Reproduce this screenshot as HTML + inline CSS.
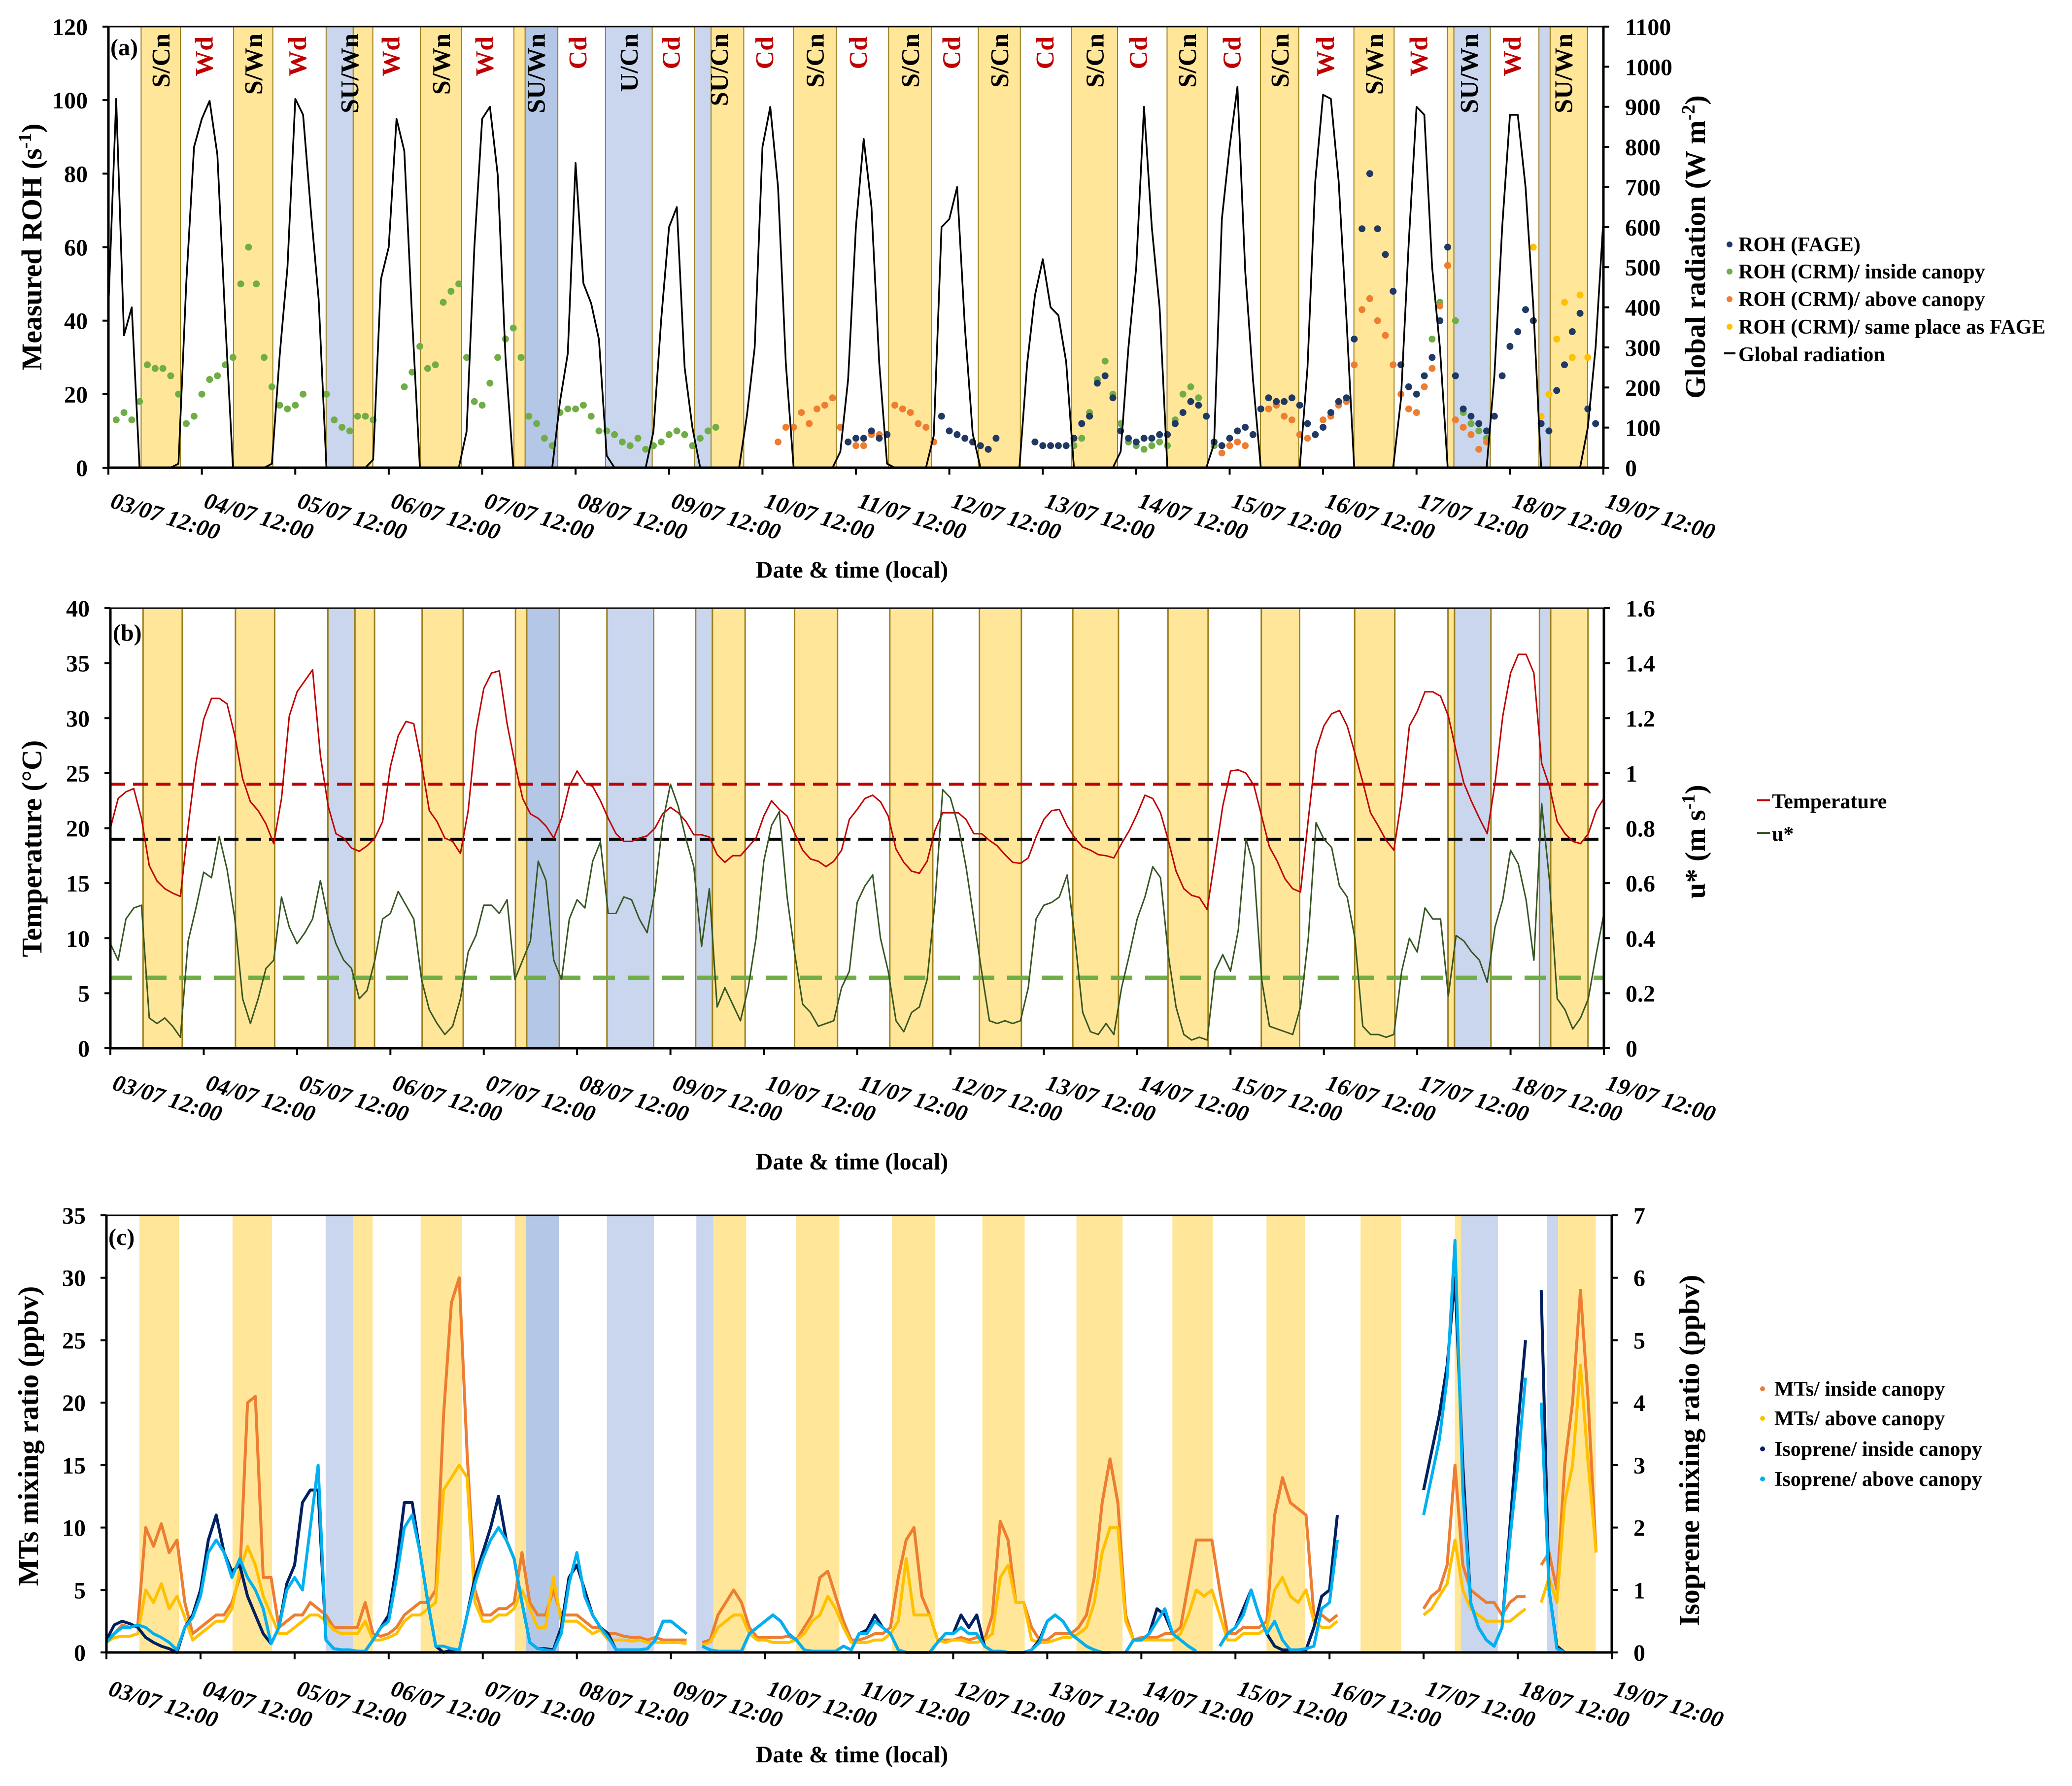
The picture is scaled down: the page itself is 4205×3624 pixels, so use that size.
<!DOCTYPE html>
<html><head><meta charset="utf-8"><title>ROH, temperature, u* and BVOC time series</title>
<style>
html,body{margin:0;padding:0;background:#fff;}
svg{display:block;font-family:"Liberation Serif","Times New Roman",serif;font-weight:bold;}
</style></head>
<body>
<svg id="fig" xmlns="http://www.w3.org/2000/svg" width="4205" height="3624" viewBox="0 0 4205 3624">
<rect x="0" y="0" width="4205" height="3624" fill="#fff"/>
<g id="bandsA"></g>
<g id="bandsB"></g>
<g id="bandsC"></g>
<g id="marks"></g>
<g id="axes"></g>

<text x="224" y="112" font-size="48">(a)</text>
<text x="229" y="1300" font-size="48">(b)</text>
<text x="220" y="2526" font-size="48">(c)</text>

<text transform="translate(84,501) rotate(-90)" text-anchor="middle" font-size="58">Measured ROH (s<tspan baseline-shift="super" font-size="38">-1</tspan>)</text>
<text transform="translate(3460,501) rotate(-90)" text-anchor="middle" font-size="58">Global radiation (W m<tspan baseline-shift="super" font-size="38">-2</tspan>)</text>
<text transform="translate(84,1722) rotate(-90)" text-anchor="middle" font-size="58">Temperature (°C)</text>
<text transform="translate(3460,1708) rotate(-90)" text-anchor="middle" font-size="58">u* (m s<tspan baseline-shift="super" font-size="38">-1</tspan>)</text>
<text transform="translate(77,2914) rotate(-90)" text-anchor="middle" font-size="58">MTs mixing ratio (ppbv)</text>
<text transform="translate(3448,2943) rotate(-90)" text-anchor="middle" font-size="58">Isoprene mixing ratio (ppbv)</text>

<text x="1729" y="1172" text-anchor="middle" font-size="48">Date &amp; time (local)</text>
<text x="1729" y="2373" text-anchor="middle" font-size="48">Date &amp; time (local)</text>
<text x="1729" y="3576" text-anchor="middle" font-size="48">Date &amp; time (local)</text>

<g font-size="42">
  <g><circle cx="3510" cy="496" r="6" fill="#203864"/><text x="3528" y="510">ROH (FAGE)</text></g>
  <g><circle cx="3510" cy="551" r="6" fill="#70AD47"/><text x="3528" y="565">ROH (CRM)/ inside canopy</text></g>
  <g><circle cx="3510" cy="607" r="6" fill="#ED7D31"/><text x="3528" y="621">ROH (CRM)/ above canopy</text></g>
  <g><circle cx="3510" cy="663" r="6" fill="#FFC000"/><text x="3528" y="677">ROH (CRM)/ same place as FAGE</text></g>
  <g><line x1="3499" y1="717" x2="3522" y2="717" stroke="#000" stroke-width="4"/><text x="3528" y="733">Global radiation</text></g>
</g>
<g font-size="42">
  <g><line x1="3566" y1="1624" x2="3592" y2="1624" stroke="#C00000" stroke-width="4"/><text x="3596" y="1640">Temperature</text></g>
  <g><line x1="3566" y1="1690" x2="3592" y2="1690" stroke="#375623" stroke-width="4"/><text x="3596" y="1706">u*</text></g>
</g>
<g font-size="42">
  <g><circle cx="3577" cy="2818" r="5" fill="#ED7D31"/><text x="3601" y="2832">MTs/ inside canopy</text></g>
  <g><circle cx="3577" cy="2878" r="5" fill="#FFC000"/><text x="3601" y="2892">MTs/ above canopy</text></g>
  <g><circle cx="3577" cy="2940" r="5" fill="#002060"/><text x="3601" y="2954">Isoprene/ inside canopy</text></g>
  <g><circle cx="3577" cy="3001" r="5" fill="#00B0F0"/><text x="3601" y="3015">Isoprene/ above canopy</text></g>
</g>
</svg>

<script>
const _ = null;
const dayLabels = ['03/07 12:00','04/07 12:00','05/07 12:00','06/07 12:00','07/07 12:00','08/07 12:00','09/07 12:00','10/07 12:00','11/07 12:00','12/07 12:00','13/07 12:00','14/07 12:00','15/07 12:00','16/07 12:00','17/07 12:00','18/07 12:00','19/07 12:00'];
const bandStart = [0.35,1.34,2.33,2.62,3.34,4.34,4.46,5.32,6.27,6.45,7.33,8.35,9.31,10.31,11.33,12.33,13.33,14.33,14.40,15.31,15.43];
const bandEnd   = [0.77,1.76,2.62,2.83,3.78,4.46,4.81,5.82,6.45,6.80,7.79,8.81,9.76,10.80,11.76,12.74,13.76,14.40,14.79,15.43,15.83];
const bandType  = ['Y','Y','B','Y','Y','Y','D','B','B','Y','Y','Y','Y','Y','Y','Y','Y','Y','B','B','Y'];
const nightLabels = ['S/Cn','S/Wn','SU/Wn','S/Wn','SU/Wn','U/Cn','SU/Cn','S/Cn','S/Cn','S/Cn','S/Cn','S/Cn','S/Cn','S/Wn','SU/Wn','SU/Wn'];
const dayTypeLabels = ['Wd','Wd','Wd','Wd','Cd','Cd','Cd','Cd','Cd','Cd','Cd','Cd','Wd','Wd','Wd'];

const aLeftTicks = [0,20,40,60,80,100,120];
const aRightTicks = [0,100,200,300,400,500,600,700,800,900,1000,1100];
const radiation = [
400,920,330,400,0,0,0,0,0,10,460,800,
870,915,780,370,0,0,0,0,0,10,280,500,
920,880,640,420,0,0,0,0,0,0,20,470,
550,870,790,375,0,0,0,0,0,0,90,550,
870,900,730,275,0,0,0,0,0,0,165,285,
760,460,410,320,30,0,0,0,0,0,90,370,
600,650,250,100,0,0,0,0,0,0,130,300,
800,900,700,260,0,0,0,0,0,0,40,220,
600,820,650,260,10,0,0,0,0,0,80,600,
620,700,350,85,0,0,0,0,0,0,260,430,
520,400,380,264,0,0,0,0,0,0,40,300,
500,900,600,400,0,0,0,0,0,0,60,620,
800,950,490,219,0,0,0,0,0,0,250,715,
930,920,715,372,0,0,0,0,0,0,170,560,
900,880,500,300,0,0,0,0,0,0,230,600,
880,880,700,400,0,0,0,0,0,0,100,300,
620];
const rohInside = [
_,13,15,13,18,28,27,27,25,20,12,14,
20,24,25,28,30,50,60,50,30,22,17,16,
17,20,_,_,20,13,11,10,14,14,13,_,
_,_,22,26,33,27,28,45,48,50,30,18,
17,23,30,35,38,30,14,12,8,6,15,16,
16,17,14,10,10,9,7,6,8,5,6,7,
9,10,9,6,8,10,11,_,_,_,_,_,
_,_,_,_,_,_,_,_,_,_,_,_,
_,_,_,_,_,_,_,_,_,_,_,_,
_,_,_,_,_,_,_,_,_,_,_,_,
_,_,_,_,6,8,15,24,29,20,12,7,
6,5,6,7,6,13,20,22,19,14,6,_,
_,_,_,_,_,_,_,_,_,_,_,_,
_,_,_,_,_,_,_,_,_,_,_,_,
_,25,35,45,55,40,15,12,10,8,_,_,
_,_,_,_,_,_,_,_,_,_,_,_,
_];
const rohAbove = [
_,_,_,_,_,_,_,_,_,_,_,_,
_,_,_,_,_,_,_,_,_,_,_,_,
_,_,_,_,_,_,_,_,_,_,_,_,
_,_,_,_,_,_,_,_,_,_,_,_,
_,_,_,_,_,_,_,_,_,_,_,_,
_,_,_,_,_,_,_,_,_,_,_,_,
_,_,_,_,_,_,_,_,_,_,_,_,
_,_,7,11,11,15,12,16,17,19,11,7,
6,6,9,9,9,17,16,15,12,11,7,_,
_,_,_,_,_,_,_,_,_,_,_,_,
_,_,_,_,_,_,_,_,_,_,_,_,
_,_,_,_,_,_,_,_,_,_,_,4,
6,7,6,9,16,16,17,14,13,9,8,9,
13,14,17,18,28,43,46,40,36,28,20,16,
15,22,27,44,55,13,11,9,5,7,_,_,
_,_,_,_,_,_,_,_,_,_,_,_,
_];
const rohFage = [
_,_,_,_,_,_,_,_,_,_,_,_,
_,_,_,_,_,_,_,_,_,_,_,_,
_,_,_,_,_,_,_,_,_,_,_,_,
_,_,_,_,_,_,_,_,_,_,_,_,
_,_,_,_,_,_,_,_,_,_,_,_,
_,_,_,_,_,_,_,_,_,_,_,_,
_,_,_,_,_,_,_,_,_,_,_,_,
_,_,_,_,_,_,_,_,_,_,_,7,
8,8,10,8,9,_,_,_,_,_,_,14,
10,9,8,7,6,5,8,_,_,_,_,7,
6,6,6,6,8,12,14,23,25,19,10,8,
7,8,8,9,9,12,15,18,17,14,7,6,
8,10,11,9,16,19,18,18,19,17,12,9,
11,15,18,19,35,65,80,65,58,48,28,22,
20,25,30,40,60,25,16,14,12,10,14,25,
33,37,43,40,12,10,21,28,37,42,16,12,
_];
const rohSame = [
_,_,_,_,_,_,_,_,_,_,_,_, _,_,_,_,_,_,_,_,_,_,_,_, _,_,_,_,_,_,_,_,_,_,_,_,
_,_,_,_,_,_,_,_,_,_,_,_, _,_,_,_,_,_,_,_,_,_,_,_, _,_,_,_,_,_,_,_,_,_,_,_,
_,_,_,_,_,_,_,_,_,_,_,_, _,_,_,_,_,_,_,_,_,_,_,_, _,_,_,_,_,_,_,_,_,_,_,_,
_,_,_,_,_,_,_,_,_,_,_,_, _,_,_,_,_,_,_,_,_,_,_,_, _,_,_,_,_,_,_,_,_,_,_,_,
_,_,_,_,_,_,_,_,_,_,_,_, _,_,_,_,_,_,_,_,_,_,_,_, _,_,_,_,_,_,_,_,_,_,_,_,
_,_,_,60,14,20,35,45,30,47,30,_,
_];

const bLeftTicks = [0,5,10,15,20,25,30,35,40];
const bRightTicks = ['0','0.2','0.4','0.6','0.8','1','1.2','1.4','1.6'];
const refTemps = [24,19];
const refUstar = [0.256];
const temperature = [
20.0,22.7,23.3,23.6,20.9,16.6,15.2,14.5,14.1,13.8,20.2,25.9,
29.9,31.8,31.8,31.3,28.4,24.5,22.4,21.6,20.4,18.6,22.7,30.2,
32.4,33.4,34.4,26.6,22.0,19.5,19.1,18.2,17.9,18.4,19.1,20.6,
25.6,28.4,29.7,29.5,25.9,21.6,20.6,19.1,18.8,17.7,21.6,28.8,
32.7,34.1,34.3,29.5,25.9,22.7,21.3,20.9,20.2,19.1,20.9,23.8,
25.2,24.1,23.8,22.5,20.9,19.5,18.8,18.8,19.1,19.3,20.0,21.3,
21.9,21.4,20.6,19.4,19.4,19.2,17.6,16.9,17.5,17.5,18.3,19.1,
21.1,22.5,21.7,21.1,19.5,18.0,17.2,17.0,16.5,17.0,18.0,20.8,
21.7,22.7,23.0,22.4,21.1,18.1,16.9,16.1,15.9,17.0,19.8,21.4,
21.4,21.4,20.8,19.5,19.5,18.9,18.4,17.6,16.9,16.8,17.3,19.2,
20.8,21.6,21.7,20.2,19.1,18.3,18.0,17.6,17.5,17.3,18.6,19.8,
21.3,23.0,22.7,21.4,18.9,16.1,14.5,13.9,13.7,12.6,17.3,22.0,
25.2,25.3,25.0,23.9,21.1,18.3,17.0,15.4,14.5,14.2,20.8,27.1,
29.3,30.4,30.7,29.3,26.8,24.2,21.4,20.2,18.9,18.0,22.7,29.3,
30.6,32.4,32.4,32.0,30.2,27.0,24.1,22.4,20.9,19.5,24.1,30.2,
34.1,35.8,35.8,34.1,25.9,23.8,20.6,19.5,18.8,18.6,19.5,21.6,
22.7];
const ustar = [
.38,.32,.47,.51,.52,.11,.09,.11,.08,.04,.39,.51,
.64,.62,.77,.65,.47,.18,.09,.18,.29,.32,.55,.44,
.38,.42,.47,.61,.47,.38,.32,.29,.18,.21,.32,.47,
.49,.57,.52,.47,.25,.14,.09,.05,.08,.18,.35,.41,
.52,.52,.49,.54,.25,.32,.39,.68,.61,.32,.25,.47,
.54,.51,.68,.75,.49,.49,.55,.54,.47,.42,.57,.82,
.96,.88,.76,.66,.37,.58,.15,.22,.16,.10,.22,.40,
.68,.81,.86,.55,.34,.16,.13,.08,.09,.10,.22,.28,
.53,.59,.63,.40,.28,.10,.06,.13,.15,.25,.53,.94,
.91,.81,.66,.47,.28,.10,.09,.10,.09,.10,.22,.47,
.52,.53,.55,.63,.40,.13,.06,.05,.09,.05,.22,.34,
.47,.55,.66,.62,.34,.15,.05,.03,.04,.03,.28,.34,
.28,.43,.76,.66,.25,.08,.07,.06,.05,.15,.40,.82,
.76,.73,.59,.55,.40,.08,.05,.05,.04,.05,.28,.40,
.35,.51,.47,.47,.19,.41,.39,.35,.32,.24,.44,.54,
.72,.67,.54,.32,.89,.61,.18,.14,.07,.11,.18,.34,
.49];

const cLeftTicks = [0,5,10,15,20,25,30,35];
const cRightTicks = [0,1,2,3,4,5,6,7];
const mtsInside = [
1.0,1.5,2.2,2.0,2.2,10.0,8.5,10.3,8.0,9.0,4.0,1.5,
2.0,2.5,3.0,3.0,4.0,6.0,20.0,20.5,6.0,6.0,2.0,2.5,
3.0,3.0,4.0,3.5,3.0,2.0,2.0,2.0,2.0,4.0,1.5,1.3,
1.5,2.0,3.0,3.5,4.0,4.0,5.0,19.0,28.0,30.0,16.0,5.0,
3.0,3.0,3.5,3.5,4.0,8.0,4.0,3.0,3.0,5.0,3.0,3.0,
3.0,2.5,2.0,2.0,1.5,1.5,1.3,1.2,1.2,1.0,1.2,1.0,
1.0,1.0,1.0,_,0.8,1.0,3.0,4.0,5.0,4.0,2.0,1.2,
1.2,1.2,1.2,1.3,1.0,2.0,3.0,6.0,6.5,4.5,2.5,1.0,
1.0,1.2,1.5,1.5,2.0,6.0,9.0,10.0,4.5,3.0,1.0,1.0,
1.0,1.2,1.0,1.2,1.0,3.0,10.5,9.0,4.0,4.0,2.0,1.0,
1.0,1.5,1.5,1.5,2.0,3.0,6.0,12.0,15.5,12.0,3.0,1.0,
1.2,1.2,1.2,1.5,1.5,2.0,5.5,9.0,9.0,9.0,5.0,1.5,
1.5,2.0,2.0,2.0,2.5,11.0,14.0,12.0,11.5,11.0,3.0,3.0,
2.5,3.0,_,_,_,_,_,_,_,_,_,_,
3.5,4.5,5.0,7.0,15.0,7.0,5.0,4.5,4.0,4.0,3.0,4.0,
4.5,4.5,_,7.0,8.0,5.0,15.0,20.0,29.0,20.0,8.0,_,
_];
const mtsAbove = [
0.8,1.2,1.3,1.3,1.5,5.0,4.0,5.5,3.5,4.5,2.8,1.0,
1.5,2.0,2.5,2.5,3.5,6.5,8.5,7.0,4.5,3.0,1.5,1.5,
2.0,2.5,3.0,3.0,2.5,1.8,1.5,1.5,1.5,2.5,1.0,1.0,
1.2,1.5,2.5,3.0,3.0,3.5,4.0,13.0,14.0,15.0,14.0,4.0,
2.5,2.5,3.0,3.0,3.5,5.0,3.5,2.0,2.0,6.0,2.5,2.5,
2.5,2.0,1.5,1.8,1.0,1.0,1.0,0.9,1.0,0.8,0.8,0.8,
0.8,0.8,0.7,_,0.6,0.8,2.0,2.5,3.0,3.0,1.5,1.0,
1.0,0.8,0.8,0.8,1.0,1.5,2.5,3.0,4.5,3.5,2.0,0.8,
0.8,0.8,1.0,1.0,1.5,2.5,7.5,3.0,3.0,3.0,1.0,0.8,
1.0,1.0,0.8,0.8,1.0,1.5,6.0,7.0,4.0,4.0,1.0,0.8,
0.8,1.0,1.2,1.2,1.5,2.0,4.0,8.0,10.0,10.0,2.5,1.0,
1.0,1.0,1.0,1.0,1.0,1.5,3.0,5.0,4.5,5.0,3.0,1.0,
1.0,1.5,1.5,1.5,2.0,5.0,6.0,4.5,4.0,5.0,2.5,2.0,
2.0,2.5,_,_,_,_,_,_,_,_,_,_,
3.0,3.5,4.5,5.5,9.0,5.0,3.5,3.0,2.5,2.5,2.5,2.5,
3.0,3.5,_,4.0,6.0,4.0,12.0,15.0,23.0,15.0,8.0,_,
_];
const isoInside = [
.2,.44,.5,.46,.4,.24,.16,.1,.06,0,.4,.6,
1,1.8,2.2,1.6,1.3,1.4,.9,.6,.3,.14,.4,1.1,
1.4,2.4,2.6,2.6,.2,.06,.04,.04,.02,.02,.2,.4,
.6,1.4,2.4,2.4,1.6,.8,.1,0,.04,.04,.6,1.2,
1.6,2,2.5,1.8,1.5,.8,.16,.06,.06,.04,.4,1.2,
1.4,1,.6,.4,.3,.04,.04,.04,.04,.06,.2,.5,
.5,.4,.3,_,.1,.04,.02,.02,.02,.02,.3,.4,
.5,.6,.5,.3,.2,.04,.02,.02,.02,.02,.1,.04,
.3,.36,.6,.4,.3,.04,0,0,0,0,.16,.3,
.3,.6,.4,.6,.1,.02,.02,0,0,0,.04,.2,
.5,.6,.5,.3,.2,.1,.04,0,0,_,0,.2,
.2,.3,.7,.6,.3,.2,.1,.02,_,_,.1,.3,
.4,.7,1,.6,.3,.1,.04,.04,.04,.04,.4,.9,
1,2.2,_,_,_,_,_,_,_,_,_,_,
2.6,3.2,3.8,4.6,6.0,3.0,.8,.4,.2,.1,.4,2.0,
3.6,5.0,_,5.8,1.0,.1,0,_,_,_,_,_,
_];
const isoAbove = [
.16,.3,.4,.4,.44,.4,.3,.24,.16,.04,.4,.56,
.9,1.6,1.8,1.6,1.2,1.5,1.2,1,.7,.14,.4,1,
1.2,1,2,3,.2,.06,.04,.04,.02,.02,.2,.4,
.5,1.2,2,2.2,1.6,.8,.1,.1,.06,.04,.6,1.1,
1.5,1.8,2,1.8,1.5,.8,.16,.06,.04,.02,.3,1.1,
1.6,.9,.6,.4,.24,.04,.04,.04,.04,.06,.2,.5,
.5,.4,.3,_,.1,.04,.02,.02,.02,.02,.3,.4,
.5,.6,.5,.3,.2,.04,.02,.02,.02,.02,.1,.04,
.3,.3,.5,.4,.3,.04,0,0,0,0,.16,.3,
.3,.4,.3,.3,.1,.02,.02,0,0,0,.04,.16,
.5,.6,.5,.3,.2,.1,.04,0,0,_,0,.2,
.2,.3,.5,.7,.3,.2,.1,.02,_,_,.1,.3,
.4,.6,1,.6,.3,.5,.2,.04,.04,.06,.1,.7,
.8,1.8,_,_,_,_,_,_,_,_,_,_,
2.2,2.8,3.4,4.4,6.6,2.6,.8,.4,.2,.1,.4,1.8,
3.0,4.4,_,4.0,1.0,.06,0,_,_,_,.04,_,
_];

const NS = 'http://www.w3.org/2000/svg';
const PA = {x0:220, x1:3254, y0:54, y1:949, shift:80};
const PB = {x0:224, x1:3255, y0:1234, y1:2127, shift:83};
const PC = {x0:216, x1:3271, y0:2466, y1:3353, shift:86};
const NDAYS = 16, STEP = 12;
function el(tag, attrs, parent){ const e = document.createElementNS(NS, tag); for (const k in attrs) e.setAttribute(k, attrs[k]); parent.appendChild(e); return e; }
function xs(P, t){ return P.x0 + (P.x1 - P.x0) * t / NDAYS; }
function ys(P, v, max){ return P.y1 - (P.y1 - P.y0) * v / max; }
function pathOf(P, arr, max){
  let d = '', pen = false;
  arr.forEach((v, i) => {
    if (v === null) { pen = false; return; }
    d += (pen ? 'L' : 'M') + xs(P, i / STEP).toFixed(1) + ' ' + ys(P, v, max).toFixed(1) + ' ';
    pen = true;
  });
  return d;
}
const bandColor = {Y:'#FFE699', B:'#C9D6EE', D:'#B4C7E7'};
const marks = document.getElementById('marks');
const axes = document.getElementById('axes');

function drawBands(P, gId, edges, edgeW){
  const g = document.getElementById(gId);
  bandStart.forEach((s, i) => {
    const x0 = xs(P, s), x1 = xs(P, bandEnd[i]);
    const r = el('rect', {x:x0, y:P.y0 + 2, width:x1 - x0, height:P.y1 - P.y0 - 2, fill:bandColor[bandType[i]]}, g);
    
    
    if (edges) {
      [x0, x1].forEach(xx => {
        const l = el('line', {x1:xx, y1:P.y0, x2:xx, y2:P.y1, stroke:'#9C7F1A', 'stroke-width':edgeW}, g);
        
        
      });
    }
  });
}
drawBands(PA, 'bandsA', true, 2);
drawBands(PB, 'bandsB', true, 3);
drawBands(PC, 'bandsC', false, 0);

{
  const groups = {};
  bandStart.forEach((s, i) => { const k = Math.floor(s); if (!groups[k]) groups[k] = [s, bandEnd[i]]; else groups[k][1] = bandEnd[i]; });
  nightLabels.forEach((lab, i) => {
    const g = groups[i]; const cx = xs(PA, (g[0] + g[1]) / 2) + 18;
    const t = el('text', {transform:'translate(' + cx.toFixed(1) + ',68) rotate(-90)', 'text-anchor':'end', 'font-size':52, fill:'#000'}, axes);
    t.textContent = lab;
    
    
  });
  dayTypeLabels.forEach((lab, i) => {
    const cx = xs(PA, i + 1.02) + 18;
    const t = el('text', {transform:'translate(' + cx.toFixed(1) + ',74) rotate(-90)', 'text-anchor':'end', 'font-size':52, fill:'#C00000'}, axes);
    t.textContent = lab;
    
    
  });
}

function scatter(P, arr, max, color, r, name){
  arr.forEach((v, i) => {
    if (v === null) return;
    const c = el('circle', {cx:xs(P, i / STEP).toFixed(1), cy:ys(P, v, max).toFixed(1), r:r, fill:color}, marks);
    
    
  });
}
scatter(PA, rohInside, 120, '#70AD47', 7, 'roh-inside-canopy-point');
scatter(PA, rohAbove, 120, '#ED7D31', 7, 'roh-above-canopy-point');
scatter(PA, rohFage, 120, '#203864', 7, 'roh-fage-point');
scatter(PA, rohSame, 120, '#FFC000', 7, 'roh-same-place-point');
{
  const p = el('path', {d:pathOf(PA, radiation, 1100), fill:'none', stroke:'#000', 'stroke-width':3.5, 'stroke-linejoin':'round'}, marks);
  
  
}

{
  const rc = ['#C00000', '#000000'];
  refTemps.forEach((v, i) => {
    const l = el('line', {x1:PB.x0, x2:PB.x1, y1:ys(PB, v, 40), y2:ys(PB, v, 40), stroke:rc[i], 'stroke-width':6, 'stroke-dasharray':'30 16'}, marks);
    
    
  });
  refUstar.forEach(v => {
    const l = el('line', {x1:PB.x0, x2:PB.x1, y1:ys(PB, v, 1.6), y2:ys(PB, v, 1.6), stroke:'#70AD47', 'stroke-width':9, 'stroke-dasharray':'44 26'}, marks);
    
    
  });
  const pt = el('path', {d:pathOf(PB, temperature, 40), fill:'none', stroke:'#C00000', 'stroke-width':3, 'stroke-linejoin':'round'}, marks);
  
  
  const pu = el('path', {d:pathOf(PB, ustar, 1.6), fill:'none', stroke:'#375623', 'stroke-width':3, 'stroke-linejoin':'round'}, marks);
  
  
}

{
  const a = el('path', {d:pathOf(PC, mtsInside, 35), fill:'none', stroke:'#ED7D31', 'stroke-width':6, 'stroke-linejoin':'round'}, marks);
  
  
  const b = el('path', {d:pathOf(PC, mtsAbove, 35), fill:'none', stroke:'#FFC000', 'stroke-width':6, 'stroke-linejoin':'round'}, marks);
  
  
  const c = el('path', {d:pathOf(PC, isoInside, 7), fill:'none', stroke:'#002060', 'stroke-width':6, 'stroke-linejoin':'round'}, marks);
  
  
  const d = el('path', {d:pathOf(PC, isoAbove, 7), fill:'none', stroke:'#00B0F0', 'stroke-width':6, 'stroke-linejoin':'round'}, marks);
  
  
}

function drawAxes(P, leftTicks, leftMax, rightTicks, rightMax, key){
  const f = el('rect', {x:P.x0, y:P.y0, width:P.x1 - P.x0, height:P.y1 - P.y0, fill:'none', stroke:'#000', 'stroke-width':3}, axes);
  
  
  const bl = el('line', {x1:P.x0, x2:P.x1, y1:P.y1, y2:P.y1, stroke:'#000', 'stroke-width':5}, axes);
  
  
  [P.x0, P.x1].forEach(xx => {
    const l = el('line', {x1:xx, x2:xx, y1:P.y0, y2:P.y1, stroke:'#000', 'stroke-width':5}, axes);
    
    
  });
  leftTicks.forEach(v => {
    const y = ys(P, v, leftMax);
    const tk = el('line', {x1:P.x0 - 12, x2:P.x0, y1:y, y2:y, stroke:'#000', 'stroke-width':4}, axes);
    
    
    const t = el('text', {x:P.x0 - 42, y:y + 17, 'text-anchor':'end', 'font-size':48}, axes);
    t.textContent = String(v);
    
    
  });
  rightTicks.forEach(v => {
    const y = ys(P, parseFloat(v), rightMax);
    const tk = el('line', {x1:P.x1, x2:P.x1 + 12, y1:y, y2:y, stroke:'#000', 'stroke-width':4}, axes);
    
    
    const t = el('text', {x:P.x1 + 44, y:y + 17, 'text-anchor':'start', 'font-size':48}, axes);
    t.textContent = String(v);
    
    
  });
  dayLabels.forEach((lab, i) => {
    const x = xs(P, i);
    const tk = el('line', {x1:x, x2:x, y1:P.y1, y2:P.y1 + 14, stroke:'#000', 'stroke-width':4}, axes);
    
    
    const t = el('text', {transform:'translate(' + (x + 2).toFixed(1) + ',' + (P.y1 + P.shift) + ') rotate(17)', 'font-size':47, 'font-style':'italic'}, axes);
    t.textContent = lab;
    
    
  });
}
drawAxes(PA, aLeftTicks, 120, aRightTicks, 1100, 'panel-a');
drawAxes(PB, bLeftTicks, 40, bRightTicks, 1.6, 'panel-b');
drawAxes(PC, cLeftTicks, 35, cRightTicks, 7, 'panel-c');
</script>
</body></html>
